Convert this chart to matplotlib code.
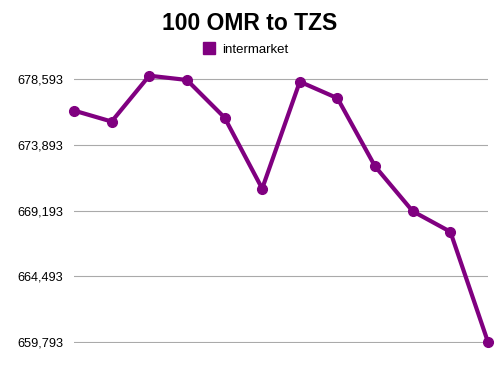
import matplotlib
matplotlib.use('Agg')
import matplotlib.pyplot as plt
from matplotlib.lines import Line2D
import numpy as np

plt.rcParams['font.family'] = ['Liberation Sans', 'DejaVu Sans']

# data
rates = [676336, 675552, 678828, 678522, 675837, 670760,
         678401, 677219, 672348, 669143, 667677, 659793]
ticks = [659793, 664493, 669193, 673893, 678593]
tick_labels = ['659,793', '664,493', '669,193', '673,893', '678,593']
series_name = 'intermarket'
purple = '#800080'

fig = plt.figure(figsize=(5, 3.75), dpi=100)
ax = fig.add_axes([0.148, 0.085, 0.828, 0.7283])

x = np.arange(len(rates))
ax.plot(x, rates, color=purple, lw=3, marker='o', ms=7, clip_on=False, zorder=3)

ax.set_xlim(0, len(rates) - 1)
ax.set_ylim(659793 - 71, 679234)
ax.set_yticks(ticks)
ax.set_yticklabels(tick_labels, fontsize=9.2)
ax.set_xticks([])
ax.tick_params(axis='y', length=0, pad=8)
ax.grid(axis='y', color='#aaaaaa', lw=0.8)
for s in ax.spines.values():
  s.set_visible(False)

fig.text(0.5, 0.938, '100 OMR to TZS', ha='center', va='center',
         fontsize=16.5, fontweight='bold')

handle = Line2D([], [], marker='s', color=purple, ls='none', ms=9)
fig.legend([handle], [series_name], loc='center', bbox_to_anchor=(0.49, 0.868),
           frameon=False, fontsize=9.5, handletextpad=0.5, handlelength=1)

fig.savefig('out.png', dpi=100)
